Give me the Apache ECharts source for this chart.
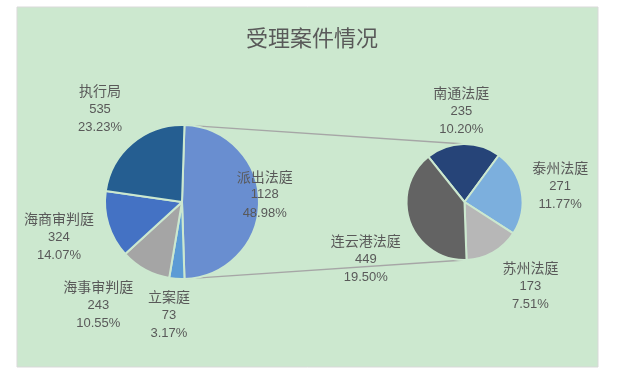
<!DOCTYPE html>
<html><head><meta charset="utf-8">
<script src="https://cdn.jsdelivr.net/npm/echarts@6/dist/echarts.min.js"></script>
<style>html,body{margin:0;padding:0;background:#fff;}#c{width:621px;height:375px;}</style>
</head><body><div id="c"></div>
<script>
const categories = ['派出法庭', '立案庭', '海事审判庭', '海商审判庭', '执行局'];
const mainValues = [1128, 73, 243, 324, 535];
const subCategories = ['南通法庭', '泰州法庭', '苏州法庭', '连云港法庭'];
const subValues = [235, 271, 173, 449];

const mainColors = ['#698ed0', '#5b9bd5', '#a5a5a5', '#4472c4', '#255e91'];
const subColors = ['#264478', '#7cafdd', '#b7b7b7', '#636363'];

const total = mainValues.reduce((a, b) => a + b, 0);
const centers = [[182, 202], [464.5, 202]];
const radii = [77, 58];
// label anchor: [angle clockwise from top (deg), distance from pie centre]
const labelPolar = [
  [[85, 83], [186.6, 114], [219, 133], [254, 128], [318.6, 124]],
  [[358, 91], [80.5, 97], [142, 107], [240, 114]]
];

const chart = echarts.init(document.getElementById('c'));
const fmt = p => '{n|' + p.name + '}\n{v|' + p.value + '}\n{v|' + (p.value / total * 100).toFixed(2) + '%}';
const labelCfg = {
  show: true, position: 'outside', formatter: fmt, color: '#595959',
  overflow: 'none', width: 120,
  rich: {
    n: { fontSize: 14, lineHeight: 18.5, color: '#595959', fontFamily: 'Noto Sans CJK SC', align: 'center' },
    v: { fontSize: 13, lineHeight: 18.5, color: '#595959', fontFamily: 'Liberation Sans', align: 'center' }
  }
};
const labelLayout = params => {
  const s = params.seriesIndex, i = params.dataIndex;
  const p = labelPolar[s][i];
  const a = p[0] * Math.PI / 180;
  return {
    x: centers[s][0] + p[1] * Math.sin(a),
    y: centers[s][1] - p[1] * Math.cos(a),
    align: 'center', verticalAlign: 'middle'
  };
};

// connector line endpoints from the pie geometry
const half = mainValues[0] / total * Math.PI; // half-angle of the split slice
const edge = Math.PI / 2 - half;               // angle of its edges measured from 12 o'clock
const lx1 = centers[0][0] + radii[0] * Math.sin(edge);
const ly1 = centers[0][1] - radii[0] * Math.cos(edge);
const ly2 = centers[0][1] + radii[0] * Math.cos(edge);

chart.setOption({
  animation: false,
  title: {
    text: '受理案件情况', left: 307, top: 22, textAlign: 'center',
    textStyle: { fontSize: 22, fontWeight: 'normal', color: '#595959', fontFamily: 'Noto Sans CJK SC' }
  },
  graphic: [
    { type: 'rect', z: -10, shape: { x: 17, y: 7, width: 581, height: 360 },
      style: { fill: '#cce8cf', stroke: '#d9d9d9', lineWidth: 1 } },
    { type: 'line', z: 1, shape: { x1: lx1, y1: ly1, x2: centers[1][0], y2: centers[1][1] - radii[1] },
      style: { stroke: '#a6a6a6', lineWidth: 1.3 } },
    { type: 'line', z: 1, shape: { x1: lx1, y1: ly2, x2: centers[1][0], y2: centers[1][1] + radii[1] },
      style: { stroke: '#a6a6a6', lineWidth: 1.3 } }
  ],
  series: [
    {
      type: 'pie', center: centers[0], radius: radii[0],
      startAngle: mainValues[0] / total * 180, clockwise: true,
      itemStyle: { borderColor: '#cce8cf', borderWidth: 2 },
      label: labelCfg, labelLine: { show: false }, labelLayout: labelLayout,
      emphasis: { disabled: true },
      data: categories.map((n, i) => ({ name: n, value: mainValues[i], itemStyle: { color: mainColors[i] } }))
    },
    {
      type: 'pie', center: centers[1], radius: radii[1],
      startAngle: 128.7, clockwise: true,
      itemStyle: { borderColor: '#cce8cf', borderWidth: 2 },
      label: labelCfg, labelLine: { show: false }, labelLayout: labelLayout,
      emphasis: { disabled: true },
      data: subCategories.map((n, i) => ({ name: n, value: subValues[i], itemStyle: { color: subColors[i] } }))
    }
  ]
});
</script></body></html>
